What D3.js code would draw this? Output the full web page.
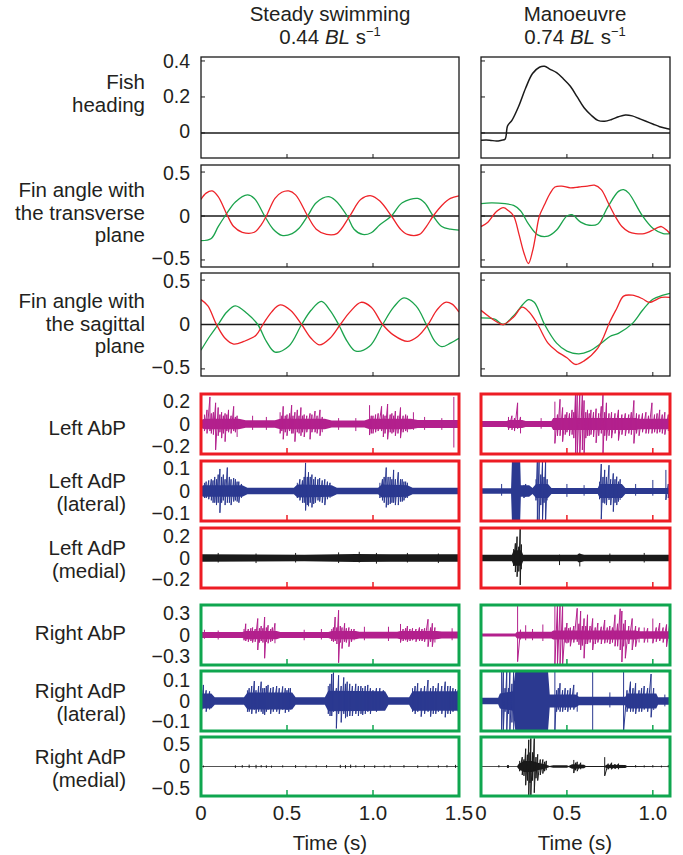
<!DOCTYPE html>
<html>
<head>
<meta charset="utf-8">
<script src="https://cdn.jsdelivr.net/npm/d3@7"></script>
<style>
  body { margin: 0; background: #fff; }
  text { font-family: "Liberation Sans", Arial, Helvetica, sans-serif; fill: #231f20; }
</style>
</head>
<body>
<div id="chart"></div>
<script>
// ---------- data ----------
var colTitles = ["Steady swimming", "Manoeuvre"];
var colSpeeds = ["0.44", "0.74"];
var xTicksSteady = [0, 0.5, 1.0, 1.5];
var xTicksMan = [0, 0.5, 1.0];
var xLabelsSteady = ["0", "0.5", "1.0", "1.5"];
var xLabelsMan = ["0", "0.5", "1.0"];

// fish heading (manoeuvre only), [time, value]
var headingMan = [[0,-0.04],[0.05,-0.04],[0.09,-0.045],[0.12,-0.04],[0.14,-0.035],[0.155,0.04],[0.18,0.07],[0.22,0.15],[0.26,0.25],[0.30,0.33],[0.34,0.365],[0.37,0.37],[0.40,0.355],[0.44,0.335],[0.48,0.30],[0.52,0.26],[0.56,0.20],[0.60,0.14],[0.64,0.10],[0.68,0.07],[0.72,0.065],[0.76,0.075],[0.80,0.09],[0.84,0.10],[0.88,0.095],[0.92,0.08],[0.96,0.065],[1.0,0.05],[1.04,0.035],[1.08,0.025],[1.1,0.02]];

// fin angle with the transverse plane
var transRedSteady = [[0,0.19],[0.03,0.26],[0.065,0.285],[0.10,0.22],[0.15,0.02],[0.19,-0.12],[0.24,-0.185],[0.31,-0.185],[0.35,-0.10],[0.38,0.0],[0.43,0.2],[0.47,0.27],[0.51,0.285],[0.55,0.24],[0.62,0.0],[0.67,-0.15],[0.73,-0.21],[0.79,-0.2],[0.865,0.0],[0.93,0.19],[0.99,0.23],[1.04,0.17],[1.107,0.0],[1.16,-0.15],[1.20,-0.21],[1.27,-0.21],[1.31,-0.12],[1.35,0.0],[1.40,0.12],[1.45,0.2],[1.5,0.23]];
var transGreenSteady = [[0,-0.28],[0.06,-0.255],[0.10,-0.12],[0.14,0.0],[0.2,0.16],[0.27,0.24],[0.31,0.2],[0.37,0.0],[0.42,-0.15],[0.47,-0.22],[0.53,-0.2],[0.57,-0.14],[0.62,0.0],[0.67,0.15],[0.74,0.22],[0.78,0.18],[0.85,0.0],[0.89,-0.15],[0.94,-0.21],[0.99,-0.19],[1.04,-0.1],[1.107,0.0],[1.17,0.15],[1.26,0.2],[1.3,0.15],[1.35,0.0],[1.4,-0.12],[1.45,-0.15],[1.5,-0.16]];
var transRedMan = [[0,-0.12],[0.04,-0.07],[0.09,0.05],[0.13,0.095],[0.16,0.06],[0.19,0.0],[0.22,-0.2],[0.25,-0.42],[0.276,-0.54],[0.30,-0.40],[0.32,-0.2],[0.34,0.0],[0.37,0.13],[0.40,0.25],[0.43,0.33],[0.47,0.34],[0.52,0.32],[0.57,0.33],[0.62,0.34],[0.66,0.35],[0.70,0.30],[0.74,0.15],[0.78,0.0],[0.82,-0.12],[0.86,-0.18],[0.90,-0.2],[0.95,-0.2],[0.99,-0.17],[1.03,-0.13],[1.05,-0.12],[1.08,-0.16],[1.1,-0.2]];
var transGreenMan = [[0,0.14],[0.06,0.15],[0.14,0.14],[0.19,0.12],[0.23,0.06],[0.276,-0.09],[0.33,-0.215],[0.39,-0.23],[0.44,-0.16],[0.50,0.0],[0.53,0.015],[0.58,-0.07],[0.63,-0.105],[0.68,-0.09],[0.74,0.11],[0.80,0.28],[0.83,0.30],[0.86,0.26],[0.94,0.0],[1.0,-0.14],[1.06,-0.2],[1.1,-0.2]];

// fin angle with the sagittal plane
var sagRedSteady = [[0,0.28],[0.04,0.21],[0.09,0.0],[0.14,-0.155],[0.19,-0.22],[0.25,-0.19],[0.32,-0.12],[0.36,0.0],[0.41,0.14],[0.46,0.22],[0.52,0.16],[0.585,0.0],[0.64,-0.155],[0.69,-0.23],[0.75,-0.155],[0.81,0.0],[0.865,0.14],[0.93,0.25],[0.99,0.195],[1.056,0.0],[1.12,-0.12],[1.2,-0.19],[1.26,-0.135],[1.32,0.0],[1.37,0.16],[1.42,0.25],[1.46,0.23],[1.5,0.14]];
var sagGreenSteady = [[0,-0.29],[0.05,-0.135],[0.10,0.0],[0.15,0.14],[0.20,0.21],[0.27,0.12],[0.33,0.0],[0.38,-0.19],[0.43,-0.31],[0.51,-0.245],[0.585,0.0],[0.64,0.16],[0.70,0.26],[0.75,0.16],[0.80,0.0],[0.85,-0.19],[0.90,-0.30],[0.98,-0.245],[1.056,0.0],[1.12,0.195],[1.18,0.30],[1.25,0.21],[1.31,0.0],[1.36,-0.19],[1.40,-0.25],[1.45,-0.21],[1.5,-0.155]];
var sagRedMan = [[0,0.16],[0.05,0.085],[0.10,0.02],[0.13,0.0],[0.19,0.085],[0.24,0.195],[0.28,0.14],[0.33,0.0],[0.39,-0.21],[0.44,-0.3],[0.50,-0.375],[0.55,-0.45],[0.60,-0.41],[0.68,-0.265],[0.71,-0.155],[0.75,0.03],[0.79,0.18],[0.83,0.32],[0.88,0.33],[0.94,0.29],[0.98,0.25],[1.05,0.305],[1.1,0.305]];
var sagGreenMan = [[0,0.075],[0.08,0.06],[0.13,0.0],[0.19,0.1],[0.276,0.28],[0.31,0.25],[0.37,0.0],[0.44,-0.21],[0.50,-0.3],[0.57,-0.33],[0.63,-0.3],[0.70,-0.21],[0.75,-0.135],[0.80,-0.1],[0.88,0.01],[0.94,0.16],[1.0,0.285],[1.06,0.33],[1.1,0.35]];

// EMG: noise envelope [time, half-amplitude] and spikes [time, high, low]
var lAbpEnvS = [[0,0.035],[0.02,0.045],[0.22,0.045],[0.26,0.032],[0.43,0.032],[0.46,0.045],[0.72,0.045],[0.76,0.03],[0.95,0.03],[0.98,0.045],[1.22,0.045],[1.26,0.033],[1.5,0.033]];
var lAbpSpkS = [[0.02,0.08,-0.06],[0.035,0.12,-0.08],[0.052,0.23,-0.06],[0.06,0.09,-0.08],[0.072,0.1,-0.09],[0.085,0.18,-0.22],[0.1,0.14,-0.1],[0.11,0.08,-0.07],[0.12,0.1,-0.12],[0.13,0.07,-0.08],[0.14,0.09,-0.15],[0.15,0.08,-0.06],[0.16,0.12,-0.07],[0.175,0.07,-0.08],[0.19,0.15,-0.06],[0.2,0.06,-0.07],[0.21,0.07,-0.11],[0.3,0.07,-0.05],[0.38,0.06,-0.05],[0.46,0.1,-0.08],[0.47,0.07,-0.06],[0.478,0.15,-0.13],[0.49,0.07,-0.07],[0.5,0.08,-0.1],[0.515,0.09,-0.06],[0.527,0.16,-0.08],[0.535,0.07,-0.08],[0.546,0.1,-0.15],[0.56,0.12,-0.07],[0.57,0.07,-0.08],[0.581,0.14,-0.1],[0.59,0.07,-0.07],[0.6,0.08,-0.11],[0.615,0.07,-0.07],[0.634,0.09,-0.13],[0.645,0.08,-0.07],[0.663,0.11,-0.07],[0.675,0.07,-0.08],[0.692,0.12,-0.1],[0.705,0.06,-0.07],[0.8,0.05,-0.05],[0.9,0.05,-0.06],[0.98,0.16,-0.094],[0.99,0.07,-0.08],[1.0,0.07,-0.08],[1.015,0.08,-0.07],[1.03,0.09,-0.06],[1.05,0.15,-0.06],[1.06,0.08,-0.11],[1.07,0.07,-0.08],[1.085,0.17,-0.13],[1.1,0.08,-0.07],[1.11,0.09,-0.08],[1.12,0.07,-0.07],[1.13,0.11,-0.1],[1.145,0.07,-0.08],[1.16,0.14,-0.12],[1.175,0.07,-0.07],[1.19,0.08,-0.06],[1.2,0.07,-0.07],[1.235,0.1,-0.05],[1.3,0.06,-0.05],[1.4,0.05,-0.05],[1.47,0.23,-0.2]];
var lAbpEnvM = [[0,0.025],[0.15,0.025],[0.16,0.035],[0.24,0.035],[0.26,0.025],[0.41,0.025],[0.42,0.05],[0.9,0.05],[0.92,0.045],[1.1,0.045]];
var lAbpSpkM = [[0.16,0.06,-0.05],[0.18,0.07,-0.05],[0.195,0.05,-0.06],[0.213,0.18,-0.04],[0.23,0.06,-0.08],[0.35,0.05,-0.04],[0.43,0.19,-0.165],[0.445,0.08,-0.1],[0.46,0.21,-0.1],[0.475,0.14,-0.15],[0.49,0.08,-0.09],[0.5,0.1,-0.07],[0.515,0.09,-0.1],[0.53,0.12,-0.09],[0.54,0.1,-0.12],[0.55,0.26,-0.26],[0.56,0.26,-0.26],[0.575,0.26,-0.26],[0.59,0.26,-0.22],[0.6,0.2,-0.26],[0.61,0.1,-0.12],[0.62,0.12,-0.1],[0.63,0.09,-0.1],[0.64,0.12,-0.09],[0.655,0.1,-0.11],[0.67,0.13,-0.16],[0.685,0.09,-0.1],[0.7,0.15,-0.08],[0.71,0.26,-0.26],[0.72,0.1,-0.1],[0.73,0.18,-0.14],[0.745,0.09,-0.1],[0.76,0.1,-0.12],[0.78,0.09,-0.08],[0.8,0.12,-0.14],[0.82,0.08,-0.09],[0.84,0.09,-0.1],[0.86,0.08,-0.08],[0.875,0.1,-0.09],[0.89,0.2,-0.165],[0.905,0.09,-0.08],[0.92,0.08,-0.1],[0.94,0.09,-0.07],[0.96,0.1,-0.08],[0.975,0.07,-0.08],[0.995,0.18,-0.08],[1.01,0.08,-0.07],[1.025,0.09,-0.08],[1.04,0.12,-0.07],[1.055,0.08,-0.08],[1.07,0.1,-0.09],[1.09,0.08,-0.06]];

var lAdpLatEnvS = [[0,0.015],[0.01,0.025],[0.24,0.025],[0.27,0.014],[0.54,0.014],[0.56,0.028],[0.76,0.025],[0.79,0.014],[1.03,0.014],[1.05,0.028],[1.2,0.025],[1.23,0.014],[1.5,0.014]];
var lAdpLatSpkS = [[0.02,0.035,-0.03],[0.03,0.04,-0.03],[0.045,0.045,-0.035],[0.06,0.05,-0.04],[0.07,0.045,-0.05],[0.08,0.06,-0.05],[0.09,0.05,-0.06],[0.1,0.07,-0.05],[0.11,0.094,-0.093],[0.12,0.06,-0.05],[0.13,0.07,-0.04],[0.14,0.05,-0.06],[0.153,0.1,-0.05],[0.165,0.06,-0.05],[0.175,0.05,-0.06],[0.19,0.055,-0.045],[0.2,0.05,-0.04],[0.21,0.04,-0.045],[0.22,0.04,-0.05],[0.235,0.03,-0.03],[0.56,0.035,-0.03],[0.575,0.05,-0.04],[0.59,0.045,-0.05],[0.6,0.06,-0.05],[0.608,0.12,-0.083],[0.618,0.06,-0.06],[0.625,0.08,-0.065],[0.635,0.06,-0.05],[0.645,0.07,-0.07],[0.655,0.05,-0.055],[0.665,0.06,-0.05],[0.68,0.05,-0.04],[0.69,0.055,-0.045],[0.705,0.045,-0.05],[0.72,0.05,-0.06],[0.735,0.04,-0.035],[0.75,0.035,-0.03],[1.04,0.035,-0.03],[1.055,0.05,-0.04],[1.065,0.06,-0.05],[1.077,0.1,-0.07],[1.088,0.06,-0.06],[1.1,0.06,-0.055],[1.11,0.05,-0.05],[1.12,0.09,-0.05],[1.13,0.05,-0.06],[1.147,0.08,-0.06],[1.16,0.05,-0.045],[1.17,0.05,-0.045],[1.18,0.04,-0.04],[1.19,0.04,-0.03],[1.2,0.035,-0.03]];
var lAdpLatEnvM = [[0,0.012],[0.175,0.012],[0.18,0.128],[0.228,0.128],[0.232,0.025],[0.28,0.025],[0.3,0.013],[0.32,0.03],[0.39,0.03],[0.41,0.013],[0.68,0.013],[0.69,0.03],[0.82,0.03],[0.84,0.013],[1.1,0.013]];
var lAdpLatSpkM = [[0.12,0.03,-0.02],[0.25,0.026,-0.03],[0.26,0.03,-0.025],[0.32,0.05,-0.04],[0.328,0.128,-0.128],[0.338,0.128,-0.128],[0.348,0.07,-0.06],[0.358,0.128,-0.128],[0.367,0.06,-0.05],[0.376,0.128,-0.128],[0.385,0.05,-0.04],[0.5,0.03,-0.025],[0.6,0.025,-0.02],[0.69,0.04,-0.035],[0.7,0.115,-0.12],[0.71,0.06,-0.05],[0.72,0.09,-0.053],[0.73,0.06,-0.06],[0.745,0.11,-0.038],[0.755,0.05,-0.06],[0.77,0.075,-0.088],[0.78,0.05,-0.05],[0.79,0.061,-0.06],[0.8,0.04,-0.045],[0.81,0.05,-0.038],[0.9,0.03,-0.02],[1.0,0.047,-0.02],[1.076,0.09,-0.038],[1.09,0.03,-0.03],[1.105,0.075,-0.053]];

var lAdpMedEnvS = [[0,0.033],[0.6,0.03],[0.9,0.036],[1.1,0.034],[1.5,0.033]];
var lAdpMedSpkS = [[0.1,0.045,-0.04],[0.32,0.04,-0.045],[0.55,0.045,-0.04],[0.8,0.05,-0.045],[0.92,0.055,-0.04],[1.02,0.045,-0.05],[1.2,0.045,-0.04],[1.38,0.04,-0.045]];
var lAdpMedEnvM = [[0,0.03],[0.18,0.03],[0.19,0.07],[0.235,0.07],[0.245,0.03],[0.56,0.03],[0.57,0.04],[0.6,0.03],[1.1,0.03]];
var lAdpMedSpkM = [[0.19,0.08,-0.07],[0.2,0.13,-0.125],[0.21,0.19,-0.167],[0.22,0.1,-0.12],[0.228,0.26,-0.24],[0.235,0.12,-0.1],[0.457,0.03,-0.063],[0.575,0.04,-0.075],[0.75,0.04,-0.045],[0.95,0.045,-0.04]];

var rAbpEnvS = [[0,0.04],[0.24,0.04],[0.26,0.055],[0.44,0.055],[0.46,0.04],[0.74,0.04],[0.76,0.055],[0.9,0.055],[0.92,0.045],[1.14,0.045],[1.16,0.055],[1.37,0.055],[1.4,0.048],[1.5,0.048]];
var rAbpSpkS = [[0.02,0.07,-0.05],[0.1,0.06,-0.06],[0.25,0.08,-0.07],[0.26,0.15,-0.08],[0.275,0.08,-0.09],[0.29,0.09,-0.08],[0.3,0.1,-0.1],[0.315,0.08,-0.09],[0.33,0.22,-0.2],[0.34,0.09,-0.1],[0.35,0.12,-0.08],[0.36,0.09,-0.1],[0.37,0.24,-0.31],[0.38,0.1,-0.09],[0.39,0.13,-0.11],[0.405,0.08,-0.09],[0.415,0.1,-0.08],[0.43,0.156,-0.11],[0.6,0.07,-0.07],[0.7,0.08,-0.06],[0.76,0.08,-0.08],[0.77,0.1,-0.09],[0.78,0.24,-0.08],[0.79,0.1,-0.12],[0.8,0.33,-0.37],[0.81,0.12,-0.1],[0.82,0.1,-0.18],[0.835,0.156,-0.09],[0.845,0.09,-0.1],[0.86,0.1,-0.156],[0.875,0.08,-0.09],[0.89,0.08,-0.07],[0.95,0.11,-0.07],[1.09,0.11,-0.08],[1.16,0.147,-0.1],[1.175,0.08,-0.08],[1.19,0.09,-0.07],[1.2,0.12,-0.09],[1.215,0.08,-0.08],[1.23,0.09,-0.07],[1.25,0.08,-0.09],[1.27,0.1,-0.08],[1.285,0.08,-0.08],[1.3,0.09,-0.09],[1.32,0.21,-0.156],[1.335,0.1,-0.09],[1.345,0.156,-0.156],[1.36,0.1,-0.1],[1.46,0.09,-0.07]];
var rAbpEnvM = [[0,0.02],[0.2,0.02],[0.21,0.045],[0.41,0.045],[0.42,0.06],[0.9,0.06],[0.92,0.05],[1.1,0.05]];
var rAbpSpkM = [[0.213,0.4,-0.355],[0.23,0.07,-0.06],[0.26,0.13,-0.07],[0.3,0.08,-0.07],[0.36,0.14,-0.08],[0.43,0.4,-0.4],[0.445,0.4,-0.4],[0.46,0.4,-0.4],[0.475,0.4,-0.4],[0.49,0.1,-0.1],[0.5,0.16,-0.11],[0.51,0.09,-0.1],[0.52,0.1,-0.15],[0.54,0.12,-0.1],[0.56,0.356,-0.09],[0.57,0.15,-0.13],[0.58,0.32,-0.2],[0.59,0.12,-0.14],[0.6,0.22,-0.31],[0.61,0.12,-0.12],[0.62,0.27,-0.12],[0.635,0.12,-0.1],[0.65,0.22,-0.2],[0.665,0.1,-0.12],[0.68,0.16,-0.1],[0.7,0.11,-0.12],[0.72,0.2,-0.11],[0.735,0.1,-0.1],[0.75,0.12,-0.12],[0.765,0.1,-0.1],[0.78,0.27,-0.15],[0.795,0.15,-0.15],[0.81,0.35,-0.2],[0.82,0.32,-0.36],[0.83,0.15,-0.15],[0.84,0.2,-0.31],[0.86,0.12,-0.12],[0.88,0.22,-0.2],[0.9,0.12,-0.156],[0.92,0.1,-0.1],[0.95,0.1,-0.1],[0.97,0.09,-0.1],[1.0,0.22,-0.11],[1.02,0.1,-0.09],[1.04,0.16,-0.08],[1.06,0.1,-0.1],[1.08,0.14,-0.156],[1.1,0.18,-0.1]];

var rAdpLatEnvS = [[0,0.035],[0.06,0.035],[0.08,0.018],[0.25,0.018],[0.27,0.04],[0.53,0.04],[0.55,0.018],[0.72,0.018],[0.74,0.048],[1.07,0.045],[1.09,0.018],[1.21,0.018],[1.23,0.045],[1.5,0.045]];
var rAdpLatSpkS = [[0.005,0.05,-0.04],[0.014,0.075,-0.034],[0.03,0.05,-0.05],[0.05,0.045,-0.04],[0.27,0.05,-0.05],[0.28,0.06,-0.05],[0.295,0.07,-0.06],[0.31,0.093,-0.04],[0.32,0.05,-0.058],[0.335,0.07,-0.05],[0.35,0.09,-0.05],[0.36,0.06,-0.06],[0.37,0.06,-0.065],[0.38,0.07,-0.05],[0.39,0.075,-0.04],[0.405,0.06,-0.06],[0.42,0.065,-0.05],[0.44,0.07,-0.05],[0.455,0.06,-0.06],[0.475,0.068,-0.04],[0.49,0.06,-0.055],[0.5,0.05,-0.042],[0.51,0.06,-0.05],[0.52,0.06,-0.04],[0.74,0.07,-0.06],[0.75,0.08,-0.07],[0.76,0.126,-0.07],[0.77,0.133,-0.05],[0.787,0.06,-0.128],[0.8,0.12,-0.06],[0.815,0.07,-0.1],[0.83,0.11,-0.06],[0.84,0.08,-0.08],[0.85,0.09,-0.073],[0.865,0.08,-0.07],[0.88,0.07,-0.07],[0.9,0.08,-0.06],[0.915,0.07,-0.07],[0.93,0.07,-0.06],[0.94,0.06,-0.065],[0.955,0.07,-0.06],[0.97,0.075,-0.05],[0.985,0.06,-0.06],[1.0,0.05,-0.042],[1.02,0.06,-0.05],[1.04,0.06,-0.04],[1.06,0.05,-0.04],[1.23,0.06,-0.05],[1.245,0.07,-0.06],[1.26,0.083,-0.05],[1.28,0.06,-0.073],[1.3,0.07,-0.06],[1.32,0.098,-0.05],[1.335,0.06,-0.073],[1.35,0.07,-0.06],[1.365,0.06,-0.06],[1.38,0.083,-0.05],[1.4,0.07,-0.06],[1.42,0.09,-0.076],[1.435,0.07,-0.06],[1.45,0.07,-0.06],[1.465,0.06,-0.05],[1.48,0.055,-0.042],[1.495,0.05,-0.05]];
var rAdpLatEnvM = [[0,0.015],[0.1,0.015],[0.11,0.035],[0.185,0.045],[0.2,0.14],[0.39,0.14],[0.4,0.03],[0.55,0.03],[0.57,0.02],[0.84,0.02],[0.85,0.035],[1.02,0.035],[1.03,0.018],[1.1,0.018]];
var rAdpLatSpkM = [[0.12,0.14,-0.14],[0.13,0.14,-0.14],[0.14,0.06,-0.05],[0.15,0.14,-0.14],[0.16,0.06,-0.06],[0.168,0.14,-0.14],[0.18,0.08,-0.1],[0.19,0.14,-0.14],[0.43,0.14,-0.14],[0.44,0.05,-0.05],[0.45,0.06,-0.04],[0.46,0.083,-0.05],[0.475,0.05,-0.05],[0.49,0.06,-0.042],[0.505,0.05,-0.05],[0.52,0.06,-0.04],[0.54,0.075,-0.04],[0.56,0.04,-0.05],[0.65,0.14,-0.14],[0.75,0.04,-0.03],[0.83,0.14,-0.14],[0.85,0.05,-0.05],[0.87,0.09,-0.05],[0.885,0.06,-0.05],[0.9,0.083,-0.06],[0.92,0.05,-0.05],[0.935,0.06,-0.05],[0.95,0.07,-0.04],[0.97,0.06,-0.05],[0.99,0.126,-0.076],[1.005,0.06,-0.042],[1.07,0.03,-0.025]];

var rAdpMedEnvS = [[0,0.008],[1.5,0.008]];
var rAdpMedSpkS = [[0.014,0.02,-0.02],[0.2,0.025,-0.03],[0.24,0.03,-0.025],[0.28,0.04,-0.03],[0.32,0.035,-0.04],[0.35,0.03,-0.02],[0.38,0.025,-0.03],[0.41,0.02,-0.025],[0.475,0.025,-0.02],[0.55,0.03,-0.03],[0.61,0.02,-0.025],[0.67,0.025,-0.02],[0.73,0.03,-0.025],[0.81,0.035,-0.03],[0.84,0.03,-0.04],[0.87,0.04,-0.03],[0.9,0.025,-0.02],[0.95,0.03,-0.025],[1.01,0.025,-0.03],[1.065,0.02,-0.02],[1.1,0.025,-0.02],[1.18,0.03,-0.025],[1.26,0.025,-0.03],[1.32,0.02,-0.02],[1.38,0.025,-0.025],[1.43,0.03,-0.02],[1.48,0.035,-0.03]];
var rAdpMedEnvM = [[0,0.008],[0.21,0.008],[0.22,0.06],[0.25,0.12],[0.3,0.12],[0.33,0.08],[0.38,0.04],[0.4,0.01],[0.42,0.025],[0.5,0.025],[0.51,0.01],[0.53,0.05],[0.6,0.04],[0.61,0.01],[0.72,0.01],[0.73,0.04],[0.84,0.03],[0.85,0.01],[1.1,0.008]];
var rAdpMedSpkM = [[0.104,0.03,-0.02],[0.154,0.03,-0.03],[0.16,0.025,-0.03],[0.225,0.12,-0.1],[0.24,0.2,-0.18],[0.25,0.15,-0.2],[0.26,0.38,-0.4],[0.27,0.25,-0.3],[0.278,0.57,-0.63],[0.285,0.3,-0.35],[0.29,0.6,-0.63],[0.3,0.3,-0.3],[0.31,0.6,-0.56],[0.32,0.2,-0.25],[0.33,0.26,-0.3],[0.345,0.15,-0.18],[0.36,0.15,-0.15],[0.37,0.1,-0.1],[0.38,0.12,-0.08],[0.54,0.14,-0.14],[0.55,0.08,-0.08],[0.56,0.1,-0.1],[0.58,0.08,-0.06],[0.72,0.2,-0.2],[0.74,0.06,-0.06],[0.76,0.08,-0.06],[0.78,0.05,-0.05],[0.8,0.06,-0.06],[0.9,0.03,-0.02],[0.95,0.025,-0.02],[1.0,0.03,-0.02],[1.05,0.02,-0.02],[1.09,0.03,-0.02]];

// ---------- colours ----------
var RED = "#ee2329", GREEN = "#1ba34c";
var BORDER_RED = "#ed1c24", BORDER_GREEN = "#0fa64f";
var MAGENTA = "#b3208d", BLUE = "#2b3990", BLACK = "#1a1a1a";

function init() {
    var W = 683, H = 855;
    var svg = d3.select("#chart").append("svg")
                .attr("width", W)
                .attr("height", H);

    var cols = [
        {x: d3.scaleLinear().domain([0, 1.5]).range([201, 459]), ticks: xTicksSteady, labels: xLabelsSteady, cx: 330},
        {x: d3.scaleLinear().domain([0, 1.1]).range([481, 670]), ticks: xTicksMan, labels: xLabelsMan, cx: 575}
    ];

    // panel layout (pixels), value ranges and what goes in each cell
    var rows = [
        {top: 57, bottom: 158, dom: [-0.139, 0.422], yt: [0.4, 0.2, 0], yl: ["0.4", "0.2", "0"],
         label: ["Fish", "heading"], ly: 89, lx: 145, kind: "line",
         cells: [[], [{d: headingMan, c: BLACK}]]},
        {top: 165, bottom: 267, dom: [-0.58, 0.58], yt: [0.5, 0, -0.5], yl: ["0.5", "0", "\u22120.5"],
         label: ["Fin angle with", "the transverse", "plane"], ly: 197, lx: 145, kind: "line",
         cells: [[{d: transGreenSteady, c: GREEN}, {d: transRedSteady, c: RED}],
                 [{d: transGreenMan, c: GREEN}, {d: transRedMan, c: RED}]]},
        {top: 273, bottom: 376, dom: [-0.58, 0.58], yt: [0.5, 0, -0.5], yl: ["0.5", "0", "\u22120.5"],
         label: ["Fin angle with", "the sagittal", "plane"], ly: 308, lx: 145, kind: "line",
         cells: [[{d: sagGreenSteady, c: GREEN}, {d: sagRedSteady, c: RED}],
                 [{d: sagGreenMan, c: GREEN}, {d: sagRedMan, c: RED}]]},
        {top: 394, bottom: 454, dom: [-0.255, 0.255], yt: [0.2, 0, -0.2], yl: ["0.2", "0", "\u22120.2"],
         label: ["Left AbP"], ly: 435, lx: 126, kind: "emg", border: BORDER_RED, c: MAGENTA,
         cells: [{env: lAbpEnvS, spk: lAbpSpkS}, {env: lAbpEnvM, spk: lAbpSpkM}]},
        {top: 461, bottom: 521, dom: [-0.128, 0.128], yt: [0.1, 0, -0.1], yl: ["0.1", "0", "\u22120.1"],
         label: ["Left AdP", "(lateral)"], ly: 488, lx: 126, kind: "emg", border: BORDER_RED, c: BLUE,
         cells: [{env: lAdpLatEnvS, spk: lAdpLatSpkS}, {env: lAdpLatEnvM, spk: lAdpLatSpkM}]},
        {top: 528, bottom: 588, dom: [-0.267, 0.267], yt: [0.2, 0, -0.2], yl: ["0.2", "0", "\u22120.2"],
         label: ["Left AdP", "(medial)"], ly: 555, lx: 126, kind: "emg", border: BORDER_RED, c: BLACK,
         cells: [{env: lAdpMedEnvS, spk: lAdpMedSpkS}, {env: lAdpMedEnvM, spk: lAdpMedSpkM}]},
        {top: 605, bottom: 665, dom: [-0.4, 0.4], yt: [0.3, 0, -0.3], yl: ["0.3", "0", "\u22120.3"],
         label: ["Right AbP"], ly: 640, lx: 126, kind: "emg", border: BORDER_GREEN, c: MAGENTA,
         cells: [{env: rAbpEnvS, spk: rAbpSpkS}, {env: rAbpEnvM, spk: rAbpSpkM}]},
        {top: 671, bottom: 731, dom: [-0.14, 0.14], yt: [0.1, 0, -0.1], yl: ["0.1", "0", "\u22120.1"],
         label: ["Right AdP", "(lateral)"], ly: 698, lx: 126, kind: "emg", border: BORDER_GREEN, c: BLUE,
         cells: [{env: rAdpLatEnvS, spk: rAdpLatSpkS}, {env: rAdpLatEnvM, spk: rAdpLatSpkM}]},
        {top: 737, bottom: 796, dom: [-0.63, 0.63], yt: [0.5, 0, -0.5], yl: ["0.5", "0", "\u22120.5"],
         label: ["Right AdP", "(medial)"], ly: 764, lx: 126, kind: "emg", border: BORDER_GREEN, c: BLACK,
         cells: [{env: rAdpMedEnvS, spk: rAdpMedSpkS}, {env: rAdpMedEnvM, spk: rAdpMedSpkM}]}
    ];

    var FS = 20.5;     // titles, row labels, x labels
    var TFS = 19.5;    // y tick labels (stacked tightly between panels)

    // column titles
    cols.forEach(function(col, ci) {
        svg.append("text")
           .attr("x", col.cx).attr("y", 21)
           .attr("text-anchor", "middle")
           .style("font-size", FS + "px")
           .text(colTitles[ci]);
        var t = svg.append("text")
                   .attr("x", col.cx).attr("y", 44)
                   .attr("text-anchor", "middle")
                   .style("font-size", FS + "px");
        t.append("tspan").text(colSpeeds[ci] + " ");
        t.append("tspan").style("font-style", "italic").text("BL");
        t.append("tspan").text(" s");
        t.append("tspan").attr("dy", -8).style("font-size", "13px").text("\u22121");
    });

    var defs = svg.append("defs");

    // joins spikes that sit close together into one zig-zag trace
    function spikeRuns(spk) {
        var runs = [], cur = [];
        spk.forEach(function(d, i) {
            if (i > 0 && d[0] - spk[i - 1][0] > 0.026) { runs.push(cur); cur = []; }
            cur.push([d[0], d[1]], [d[0], d[2]]);
        });
        if (cur.length) runs.push(cur);
        return runs;
    }

    rows.forEach(function(row, ri) {
        var y = d3.scaleLinear().domain(row.dom).range([row.bottom, row.top]);

        // row label
        var lab = svg.append("text")
                     .attr("text-anchor", "end")
                     .style("font-size", FS + "px");
        row.label.forEach(function(s, i) {
            lab.append("tspan").attr("x", row.lx).attr("y", row.ly + i * 22.5).text(s);
        });

        // y tick labels (left column only); outer ones nudged inwards a pixel
        var last = row.yt.length - 1;
        row.yt.forEach(function(v, i) {
            var nudge = i === 0 ? 1 : (i === last ? -1 : 0);
            svg.append("text")
               .attr("x", 190).attr("y", y(v) + 6.5 + nudge)
               .attr("text-anchor", "end")
               .style("font-size", TFS + "px")
               .text(row.yl[i]);
        });

        cols.forEach(function(col, ci) {
            var x = col.x;
            var x0 = x.range()[0], x1 = x.range()[1];
            var g = svg.append("g");
            var clipId = "clip" + ri + "_" + ci;
            defs.append("clipPath").attr("id", clipId)
                .append("rect")
                .attr("x", x0).attr("y", row.top)
                .attr("width", x1 - x0).attr("height", row.bottom - row.top);
            var inner = g.append("g").attr("clip-path", "url(#" + clipId + ")");

            if (row.kind === "line") {
                // zero reference line
                inner.append("line")
                     .attr("x1", x0).attr("x2", x1)
                     .attr("y1", y(0)).attr("y2", y(0))
                     .attr("stroke", BLACK).attr("stroke-width", 1.5);

                var line = d3.line()
                             .x(function(d) { return x(d[0]); })
                             .y(function(d) { return y(d[1]); })
                             .curve(d3.curveCatmullRom.alpha(0.5));
                row.cells[ci].forEach(function(s) {
                    inner.append("path")
                         .datum(s.d)
                         .attr("d", line)
                         .attr("fill", "none")
                         .attr("stroke", s.c)
                         .attr("stroke-width", s.c === BLACK ? 1.5 : 1.3);
                });

                // inner ticks
                [0.5, 1.0].forEach(function(t) {
                    g.append("line")
                     .attr("x1", x(t)).attr("x2", x(t))
                     .attr("y1", row.bottom).attr("y2", row.bottom - 4)
                     .attr("stroke", BLACK).attr("stroke-width", 1);
                });
                row.yt.forEach(function(v) {
                    g.append("line")
                     .attr("x1", x0).attr("x2", x0 + 4)
                     .attr("y1", y(v)).attr("y2", y(v))
                     .attr("stroke", BLACK).attr("stroke-width", 1);
                });

                g.append("rect")
                 .attr("x", x0).attr("y", row.top)
                 .attr("width", x1 - x0).attr("height", row.bottom - row.top)
                 .attr("fill", "none")
                 .attr("stroke", BLACK).attr("stroke-width", 1.3);
            } else {
                var cell = row.cells[ci];
                var area = d3.area()
                             .x(function(d) { return x(d[0]); })
                             .y0(function(d) { return y(-d[1]); })
                             .y1(function(d) { return y(d[1]); });
                inner.append("path")
                     .datum(cell.env)
                     .attr("d", area)
                     .attr("fill", row.c);

                var zig = d3.line()
                            .x(function(d) { return x(d[0]); })
                            .y(function(d) { return y(d[1]); });
                inner.selectAll("path.spk")
                     .data(spikeRuns(cell.spk))
                     .enter()
                     .append("path")
                     .attr("class", "spk")
                     .attr("d", zig)
                     .attr("fill", "none")
                     .attr("stroke", row.c)
                     .attr("stroke-width", 1)
                     .attr("stroke-linejoin", "miter");

                [0.5, 1.0].forEach(function(t) {
                    g.append("line")
                     .attr("x1", x(t)).attr("x2", x(t))
                     .attr("y1", row.bottom).attr("y2", row.bottom - 6)
                     .attr("stroke", row.border).attr("stroke-width", 1.5);
                });

                g.append("rect")
                 .attr("x", x0).attr("y", row.top)
                 .attr("width", x1 - x0).attr("height", row.bottom - row.top)
                 .attr("fill", "none")
                 .attr("stroke", row.border).attr("stroke-width", 3);
            }
        });
    });

    // x axis labels under the last row
    cols.forEach(function(col) {
        col.ticks.forEach(function(t, i) {
            svg.append("text")
               .attr("x", col.x(t)).attr("y", 820)
               .attr("text-anchor", "middle")
               .style("font-size", FS + "px")
               .text(col.labels[i]);
        });
        svg.append("text")
           .attr("x", col.cx).attr("y", 850)
           .attr("text-anchor", "middle")
           .style("font-size", FS + "px")
           .text("Time (s)");
    });
}

window.onload = init;
</script>
</body>
</html>
